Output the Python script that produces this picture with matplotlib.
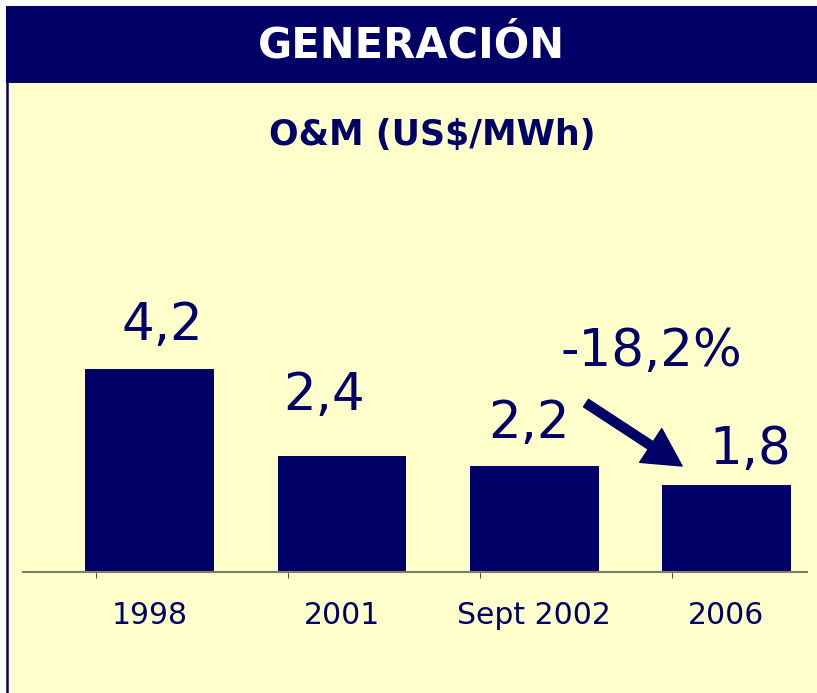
import matplotlib
matplotlib.use('Agg')
import matplotlib.pyplot as plt
from matplotlib.patches import Rectangle
from matplotlib.lines import Line2D
import numpy as np

# datos
categorias = ['1998', '2001', 'Sept 2002', '2006']
valores = [4.2, 2.4, 2.2, 1.8]
etiquetas = ['4,2', '2,4', '2,2', '1,8']
variacion = '-18,2%'

titulo = 'GENERACIÓN'
subtitulo = 'O&M (US$/MWh)'

NAVY = '#000066'
AMARILLO = '#FFFFCC'

plt.rcParams['font.family'] = ['DejaVu Sans']

W, H = 817, 693
fig = plt.figure(figsize=(W / 100, H / 100), dpi=100)
fig.patch.set_facecolor('white')

# fondo amarillo y cabecera
fig.add_artist(Rectangle((6 / W, 0), 1, 1 - 83 / H, transform=fig.transFigure,
                         facecolor=AMARILLO, edgecolor='none', zorder=0))
fig.add_artist(Rectangle((6 / W, 1 - 83 / H), 1, 77 / H, transform=fig.transFigure,
                         facecolor=NAVY, edgecolor='none', zorder=0))
fig.add_artist(Line2D([7 / W, 7 / W], [0, 1 - 83 / H], transform=fig.transFigure,
                      color=NAVY, lw=1.8))
fig.text(411 / W, 1 - 46 / H, titulo, ha='center', va='center', color='white',
         fontsize=30, fontweight='bold')
fig.text(432 / W, 1 - 135 / H, subtitulo, ha='center', va='center', color=NAVY,
         fontsize=25, fontweight='bold')

# ejes
ax = fig.add_axes([23 / W, 1 - 572 / H, 784 / W, 422 / H])
ax.set_facecolor('none')
x = np.arange(len(categorias))
bars = ax.bar(x, valores, width=0.67, color=NAVY, zorder=1)

ax.set_xlim(-0.66, 3.42)
ax.set_ylim(0, 8.72)
for s in ['top', 'right', 'left']:
    ax.spines[s].set_visible(False)
ax.spines['bottom'].set_color('#7f7f66')
ax.spines['bottom'].set_linewidth(1.5)
ax.set_yticks([])

ax.set_xticks(x)
ax.set_xticklabels(categorias, fontsize=21.5, color=NAVY)
ax.tick_params(axis='x', which='major', length=0, pad=21)
ax.set_xticks(x - 0.28, minor=True)
ax.tick_params(axis='x', which='minor', length=4, width=0.8, color='#555544', direction='out')

# etiquetas de valor
offsets = [(9, 21), (-13, 33), (-4, 20), (17, 15)]
for xi, v, lab, off in zip(x, valores, etiquetas, offsets):
    ax.annotate(lab, (xi, v), xytext=off, textcoords='offset points',
                ha='center', va='baseline', fontsize=37, color=NAVY)

# variacion y flecha
ax.text(2.61, 4.26, variacion, ha='center', va='baseline', fontsize=37, color=NAVY)
ax.annotate('', xy=(2.77, 2.19), xytext=(2.27, 3.49),
            arrowprops=dict(width=6.5, headwidth=29, headlength=27,
                            facecolor=NAVY, edgecolor=NAVY, shrink=0))

fig.savefig('out.png', dpi=100, facecolor=fig.get_facecolor())
